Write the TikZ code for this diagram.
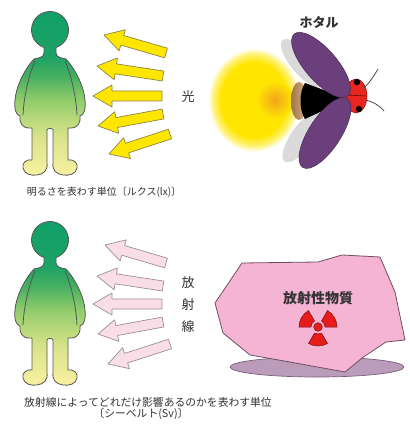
\documentclass[tikz,border=0pt]{standalone}
\usepackage{fontspec}
\newfontfamily\jp{Noto Sans CJK JP}
\usetikzlibrary{calc}

\definecolor{arrowyel}{HTML}{FFE600}
\definecolor{arrowyeledge}{HTML}{8C8646}
\definecolor{arrowpink}{HTML}{F9DEE7}
\definecolor{arrowpinkedge}{HTML}{9A9096}
\definecolor{lineedge}{HTML}{555555}
\definecolor{wing}{HTML}{6B3F7C}
\definecolor{wingedge}{HTML}{4A2A58}
\definecolor{wingshade}{HTML}{DADADA}
\definecolor{bodytan}{HTML}{C8925A}
\definecolor{headred}{HTML}{E8251F}
\definecolor{rock}{HTML}{F5B4D4}
\definecolor{rockedge}{HTML}{6E5060}
\definecolor{rockshadow}{HTML}{BA9CBA}
\definecolor{rockshadowedge}{HTML}{7C5C7C}
\definecolor{trefoil}{HTML}{E81B1B}
\definecolor{trefoiledge}{HTML}{7A1212}
\definecolor{textgray}{HTML}{333333}
\definecolor{gyel}{HTML}{FFE600}
\definecolor{gorange}{HTML}{F2A51C}
% figure gradient stops, feet to head
\definecolor{pf0}{HTML}{F4EF9E}
\definecolor{pf1}{HTML}{DCE48B}
\definecolor{pf2}{HTML}{B9D97B}
\definecolor{pf3}{HTML}{8ECB6A}
\definecolor{pf4}{HTML}{45AF61}
\definecolor{pf5}{HTML}{1DA265}
\definecolor{pf6}{HTML}{10A068}

% the path's box covers 25bp..75bp of the shading
\pgfdeclareverticalshading{personfill}{100bp}{%
  color(0bp)=(pf0); color(27bp)=(pf0);
  color(36bp)=(pf1); color(42bp)=(pf2); color(48bp)=(pf3);
  color(55bp)=(pf4); color(61bp)=(pf5); color(75bp)=(pf6); color(100bp)=(pf6)}

% glow of the lantern (edge of the shape at 25bp)
\pgfdeclareradialshading{glowfill}{\pgfpoint{0bp}{0bp}}{%
  color(0bp)=(gyel); color(18bp)=(gyel); color(22bp)=(gyel!55!white);
  color(25bp)=(white); color(50bp)=(white)}

\newcommand\fatarrow[3]{% style, tip, tail
  \coordinate (fa-tip) at (#2);
  \coordinate (fa-end) at (#3);
  \coordinate (fa-base) at ($(fa-tip)!19pt!(fa-end)$);
  \filldraw[#1] (fa-tip)
    -- ($(fa-base)!11pt!90:(fa-end)$)
    -- ($(fa-base)!5pt!90:(fa-end)$)
    -- ($(fa-end)!5pt!-90:(fa-base)$)
    -- ($(fa-end)!5pt!90:(fa-base)$)
    -- ($(fa-base)!5pt!-90:(fa-end)$)
    -- ($(fa-base)!11pt!-90:(fa-end)$)
    -- cycle;}

\tikzset{
  lightarrow/.style={fill=arrowyel, draw=arrowyeledge, line width=0.7pt, line join=round},
  rayarrow/.style={fill=arrowpink, draw=arrowpinkedge, line width=0.7pt, line join=round},
  caption/.style={font=\jp\fontsize{10}{12}\selectfont, text=textgray, inner sep=0pt},
  label/.style={font=\jp\fontsize{13}{13}\selectfont, text=textgray, inner sep=0pt},
  person/.pic={
    \shadedraw[shading=personfill, draw=lineedge, line width=0.8pt, line join=round]
      (44,47.5) -- (44,53)
      .. controls (44,57) and (39,58) .. (34,59)
      .. controls (24,70) and (16,87) .. (15,100)
      .. controls (14,109) and (16,115) .. (20,116)
      .. controls (19,122) and (22,128) .. (29,128)
      -- (32,128) -- (32,160)
      .. controls (25,159) and (22,164) .. (23,168)
      .. controls (24,174) and (31,176) .. (37,175)
      .. controls (44,174) and (48,170) .. (47,163)
      -- (47,130) .. controls (47,128) and (53,128) .. (53,130)
      -- (53,163)
      .. controls (52,170) and (56,174) .. (63,175)
      .. controls (69,176) and (76,174) .. (77,168)
      .. controls (78,164) and (75,159) .. (68,160)
      -- (68,128) -- (71,128)
      .. controls (78,128) and (81,122) .. (80,116)
      .. controls (84,115) and (86,109) .. (85,100)
      .. controls (84,87) and (76,70) .. (66,59)
      .. controls (61,58) and (56,57) .. (56,53)
      -- (56,47.5)
      arc[start angle=71.1, end angle=-251.1, radius=18.5]
      -- cycle;
    \draw[lineedge, line width=0.8pt]
      (35,61) .. controls (29,75) and (24,95) .. (23,115)
      (65,61) .. controls (71,75) and (76,95) .. (77,115);
  }
}

\begin{document}
\begin{tikzpicture}[x=1pt, y=-1pt]
\useasboundingbox (0,0) rectangle (409,425);
\fill[white] (0,0) rectangle (409,425);

% ---------- upper half: light ----------
\pic at (0,0) {person};

\fatarrow{lightarrow}{104,35}{166,53}
\fatarrow{lightarrow}{97,66}{163,76}
\fatarrow{lightarrow}{93,96}{162,96}
\fatarrow{lightarrow}{98,126}{163,114}
\fatarrow{lightarrow}{109,154}{170,134}

\node[label] (hikari) at (188,97) {光};

% glow
\shade[shading=glowfill] (254,100) ellipse [x radius=46, y radius=52];
\shade[inner color=gorange, outer color=gyel] (275,100) circle (19);

% firefly
\fill[wingshade] [rotate around={-50:(302,63)}] (302,63) ellipse [x radius=30, y radius=11];
\fill[wingshade] [rotate around={55:(302,137)}] (302,137) ellipse [x radius=30, y radius=11];
\shade[left color=bodytan!80!black, right color=bodytan!70!white] (299,101) ellipse [x radius=8, y radius=19];
\fill[black] (305,83) -- (348,99) -- (305,119)
  .. controls (299,110) and (299,92) .. cycle;
\filldraw[fill=headred, draw=headred!60!black, line width=0.5pt] (356,96) ellipse [x radius=11, y radius=17];
\draw[headred!40!black, line width=0.6pt] (346,95) -- (366,96);
\fill[black] (357,82) circle (3.2);
\fill[black] (359,109) circle (3.2);
\draw[gray!60!black, line width=0.8pt] (364,88) .. controls (370,82) and (374,76) .. (378,69);
\draw[gray!60!black, line width=0.8pt] (366,100) .. controls (373,102) and (379,105) .. (384,111);
\filldraw[fill=wing, draw=wingedge, line width=0.5pt] [rotate around={-49:(321,65)}] (321,65) ellipse [x radius=41, y radius=16];
\filldraw[fill=wing, draw=wingedge, line width=0.5pt] [rotate around={57:(325,133)}] (325,133) ellipse [x radius=41, y radius=16];

\node[label, font=\jp\bfseries\fontsize{13}{13}\selectfont] (hotaru) at (319,22) {ホタル};

\node[caption] (lux) at (104,192) {明るさを表わす単位〔ルクス(lx)〕};

% ---------- lower half: radiation ----------
\pic at (0,210) {person};

\fatarrow{rayarrow}{105,245}{166,263}
\fatarrow{rayarrow}{97,276}{163,286}
\fatarrow{rayarrow}{93,304}{162,304}
\fatarrow{rayarrow}{98,334}{163,322}
\fatarrow{rayarrow}{108,364}{170,344}

\node[label] (hou) at (188,283) {放};
\node[label] (sha) at (188,305) {射};
\node[label] (sen) at (188,327) {線};

% radioactive rock and its shadow
\filldraw[fill=rockshadow, draw=rockshadowedge, line width=0.7pt] (317,367) ellipse [x radius=87, y radius=10];
\filldraw[fill=rock, draw=rockedge, line width=0.8pt, line join=round]
  (215,303) -- (242,263) -- (318,262) -- (342,255) -- (380,257) -- (395,292)
  -- (405,340) -- (386,342) -- (362,358) -- (345,372) -- (290,362)
  -- (250,355) -- (223,333) -- cycle;

\node[label, font=\jp\bfseries\fontsize{14}{14}\selectfont] (material) at (318,298) {放射性物質};

% trefoil
\foreach \a in {90,210,330}{
  \filldraw[fill=trefoil, draw=trefoiledge, line width=0.5pt]
    ($(318,327)+(\a-30:7)$) arc[start angle=\a-30, end angle=\a+30, radius=7]
    -- ($(318,327)+(\a+30:19)$) arc[start angle=\a+30, end angle=\a-30, radius=19] -- cycle;
}
\filldraw[fill=trefoil, draw=trefoiledge, line width=0.5pt] (318,327) circle (4.3);

\node[caption, font=\jp\fontsize{10.8}{12}\selectfont] (sv1) at (148,402) {放射線によってどれだけ影響あるのかを表わす単位};
\node[caption, font=\jp\fontsize{10.8}{12}\selectfont] (sv2) at (141,414) {〔シーベルト(Sv)〕};
\end{tikzpicture}
\end{document}
